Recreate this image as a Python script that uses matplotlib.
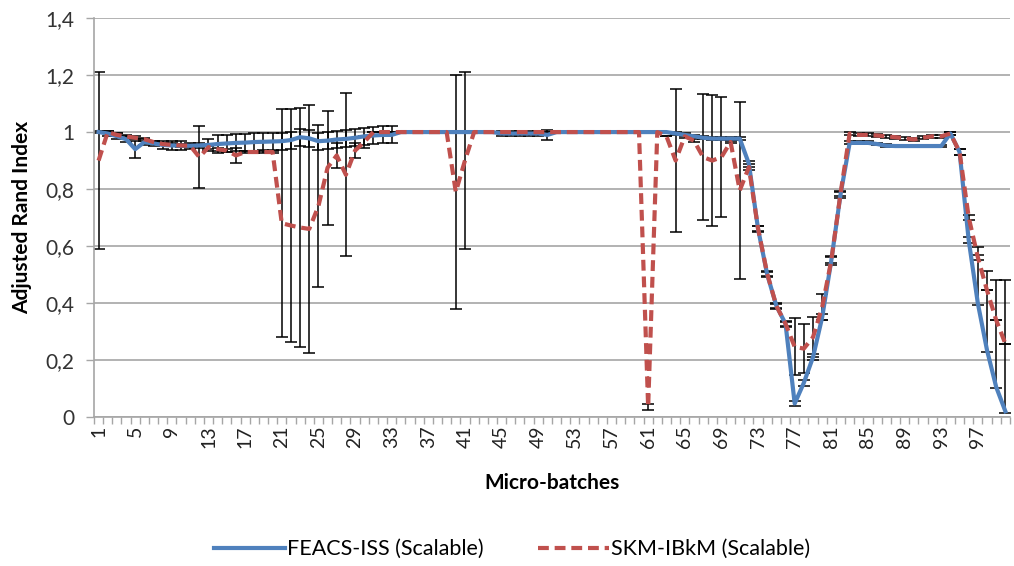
import matplotlib.pyplot as plt
import numpy as np

# Micro-batches 1..100
batches = np.arange(1, 101)

feacs_iss = [
    1.0, 0.995, 0.985, 0.975, 0.94, 0.965, 0.96, 0.955, 0.953, 0.952,
    0.952, 0.953, 0.955, 0.958, 0.96, 0.962, 0.963, 0.965, 0.966, 0.967,
    0.968, 0.972, 0.982, 0.978, 0.968, 0.97, 0.974, 0.976, 0.98, 0.985,
    0.988, 0.99, 0.99, 1.0, 1.0, 1.0, 1.0, 1.0, 1.0, 1.0,
    1.0, 1.0, 1.0, 1.0, 0.995, 0.995, 0.995, 0.995, 0.995, 0.99,
    1.0, 1.0, 1.0, 1.0, 1.0, 1.0, 1.0, 1.0, 1.0, 1.0,
    1.0, 1.0, 1.0, 0.995, 0.99, 0.985, 0.98, 0.977, 0.977, 0.977,
    0.977, 0.889, 0.66, 0.5, 0.39, 0.327, 0.047, 0.12, 0.21, 0.35,
    0.55, 0.78, 0.962, 0.962, 0.962, 0.958, 0.952, 0.951, 0.951, 0.951,
    0.951, 0.951, 0.951, 0.995, 0.93, 0.62, 0.398, 0.234, 0.105, 0.02,
]

skm_ibkm = [
    0.9, 1.0, 0.99, 0.985, 0.98, 0.975, 0.965, 0.958, 0.955, 0.953,
    0.952, 0.912, 0.947, 0.94, 0.935, 0.918, 0.93, 0.93, 0.93, 0.93,
    0.68, 0.672, 0.665, 0.66, 0.74, 0.875, 0.918, 0.85, 0.935, 0.965,
    1.0, 1.0, 1.0, 1.0, 1.0, 1.0, 1.0, 1.0, 1.0, 0.79,
    0.9, 1.0, 1.0, 1.0, 1.0, 1.0, 1.0, 1.0, 1.0, 1.0,
    1.0, 1.0, 1.0, 1.0, 1.0, 1.0, 1.0, 1.0, 1.0, 1.0,
    0.035, 1.0, 0.985, 0.9, 0.985, 0.97, 0.912, 0.9, 0.912, 0.965,
    0.795, 0.877, 0.661, 0.503, 0.39, 0.327, 0.246, 0.24, 0.28, 0.386,
    0.55, 0.784, 0.995, 0.99, 0.99, 0.988, 0.985, 0.982, 0.978, 0.974,
    0.98, 0.985, 0.985, 0.995, 0.93, 0.70, 0.56, 0.444, 0.34, 0.257,
]

feacs_err_lo = [
    0.005, 0.01, 0.01, 0.01, 0.03, 0.01, 0.01, 0.015, 0.015, 0.015,
    0.01, 0.01, 0.02, 0.03, 0.03, 0.03, 0.03, 0.03, 0.03, 0.03,
    0.03, 0.03, 0.03, 0.03, 0.03, 0.03, 0.03, 0.03, 0.03, 0.03,
    0.03, 0.03, 0.03, 0.0, 0.0, 0.0, 0.0, 0.0, 0.0, 0.0,
    0.0, 0.0, 0.0, 0.0, 0.01, 0.01, 0.01, 0.01, 0.01, 0.018,
    0.0, 0.0, 0.0, 0.0, 0.0, 0.0, 0.0, 0.0, 0.0, 0.0,
    0.0, 0.0, 0.0, 0.005, 0.005, 0.005, 0.005, 0.005, 0.005, 0.005,
    0.005, 0.01, 0.01, 0.01, 0.01, 0.01, 0.01, 0.01, 0.01, 0.01,
    0.01, 0.01, 0.005, 0.005, 0.005, 0.005, 0.005, 0.005, 0.005, 0.005,
    0.005, 0.005, 0.005, 0.005, 0.01, 0.01, 0.005, 0.005, 0.005, 0.005,
]

feacs_err_hi = feacs_err_lo[:96] + [0.2, 0.28, 0.375, 0.46]

skm_err = [
    0.31, 0.005, 0.005, 0.005, 0.005, 0.005, 0.005, 0.005, 0.005, 0.005,
    0.005, 0.11, 0.005, 0.005, 0.005, 0.027, 0.005, 0.005, 0.005, 0.005,
    0.40, 0.408, 0.42, 0.436, 0.285, 0.2, 0.043, 0.286, 0.026, 0.02,
    0.0, 0.0, 0.0, 0.0, 0.0, 0.0, 0.0, 0.0, 0.0, 0.41,
    0.31, 0.0, 0.0, 0.0, 0.0, 0.0, 0.0, 0.0, 0.0, 0.0,
    0.0, 0.0, 0.0, 0.0, 0.0, 0.0, 0.0, 0.0, 0.0, 0.0,
    0.01, 0.0, 0.0, 0.25, 0.005, 0.005, 0.22, 0.23, 0.21, 0.005,
    0.31, 0.01, 0.008, 0.008, 0.008, 0.008, 0.1, 0.085, 0.07, 0.045,
    0.015, 0.01, 0.005, 0.005, 0.005, 0.005, 0.005, 0.005, 0.005, 0.005,
    0.005, 0.005, 0.005, 0.005, 0.01, 0.01, 0.01, 0.0, 0.0, 0.0,
]

x_labels = list(range(1, 101, 4))
y_ticks = [0, 0.2, 0.4, 0.6, 0.8, 1.0, 1.2, 1.4]
y_labels = ["0", "0,2", "0,4", "0,6", "0,8", "1", "1,2", "1,4"]

BLUE = "#4F81BD"
RED = "#C0504D"
GRID = "#A6A6A6"

plt.rcParams["font.family"] = ["Lato", "DejaVu Sans"]

fig = plt.figure(figsize=(10.14, 5.66), dpi=100)
ax = fig.add_axes([0.0927, 0.2633, 0.9033, 0.7047])

err_style = dict(fmt="none", ecolor="black", elinewidth=1.1, capsize=4.5,
                 capthick=1.1, zorder=2)
ax.errorbar(batches, feacs_iss, yerr=[feacs_err_lo, feacs_err_hi], **err_style)
ax.errorbar(batches, skm_ibkm, yerr=skm_err, **err_style)

ax.plot(batches, feacs_iss, color=BLUE, lw=3, solid_joinstyle="round",
        label="FEACS-ISS (Scalable)", zorder=3)
ax.plot(batches, skm_ibkm, color=RED, lw=3, linestyle=(0, (2.6, 1.4)),
        label="SKM-IBkM (Scalable)", zorder=4)

ax.set_xlim(0.5, 100.5)
ax.set_ylim(0, 1.4)
ax.set_yticks(y_ticks)
ax.set_yticklabels(y_labels, fontsize=15, color="#333333")
ax.set_xticks(np.arange(0.5, 101, 1))
ax.set_xticklabels([])
ax.set_xticks(x_labels, minor=True)
ax.set_xticklabels([str(v) for v in x_labels], minor=True, rotation=90,
                   fontsize=14, color="#222222")
ax.tick_params(axis="x", which="major", length=5, color=GRID, width=1)
ax.tick_params(axis="x", which="minor", length=0, pad=6)
ax.tick_params(axis="y", length=6, color=GRID, width=1, pad=8)

ax.grid(axis="y", color=GRID, lw=1.2)
ax.set_axisbelow(True)
for side in ("top", "right"):
    ax.spines[side].set_visible(False)
for side in ("left", "bottom"):
    ax.spines[side].set_color(GRID)
    ax.spines[side].set_linewidth(1.2)

ax.set_ylabel("Adjusted Rand Index", fontsize=15, fontweight="bold", labelpad=10)
ax.set_xlabel("Micro-batches", fontsize=15, fontweight="bold", labelpad=18)

fig.legend(loc="lower center", bbox_to_anchor=(0.505, -0.022), ncol=2,
           frameon=False, fontsize=15.5, handlelength=3.3, columnspacing=2.5,
           handletextpad=0.1)

fig.savefig("out.png", dpi=100)
